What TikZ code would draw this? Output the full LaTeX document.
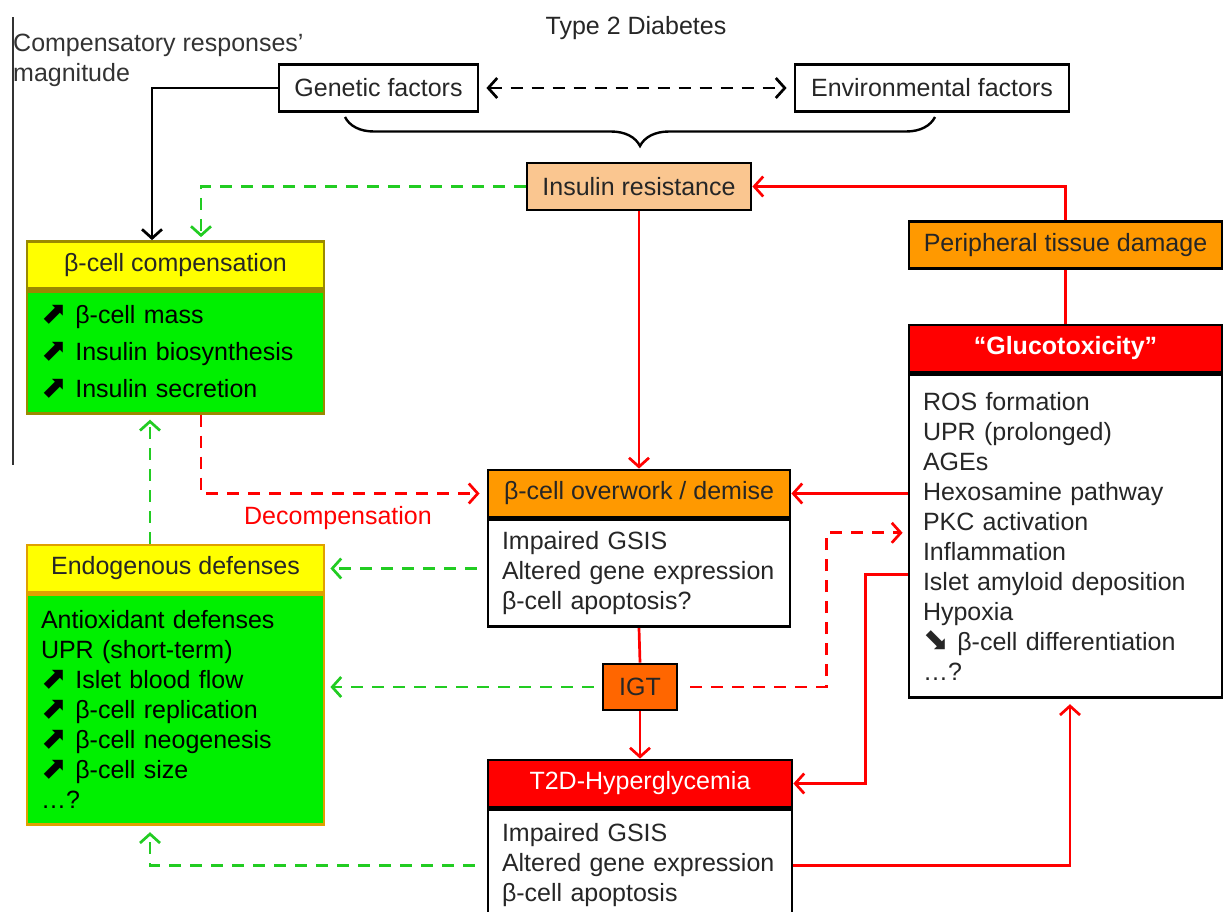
\documentclass[tikz,border=0pt]{standalone}
\usepackage{fontspec}
\setmainfont{Liberation Sans}
\newfontfamily\symfont{DejaVu Sans}
\usetikzlibrary{arrows.meta,decorations.pathreplacing}
\definecolor{hdryellow}{HTML}{FFFF00}
\definecolor{bodygreen}{HTML}{00F000}
\definecolor{compedge}{HTML}{9A8A00}
\definecolor{endoedge}{HTML}{E0A000}
\definecolor{peach}{HTML}{FAC690}
\definecolor{amber}{HTML}{FF9900}
\definecolor{igtorange}{HTML}{FF6600}
\definecolor{alarm}{HTML}{FF0000}
\definecolor{dashgreen}{HTML}{22CC22}
\definecolor{note}{HTML}{333333}
\newcommand{\upmark}{{\symfont\fontsize{31}{30}\selectfont\char"2B08}}
\newcommand{\downmark}{{\symfont\fontsize{31}{30}\selectfont\char"2B0A}}

\begin{document}
\begin{tikzpicture}[x=1pt,y=-1pt,
every node/.style={%
font=\fontsize{25}{30}\selectfont,
text=black!85,
},
box/.style={%
draw,
line width=2.8pt,
minimum height=47pt,
inner sep=0pt,
},
listbox/.style={%
draw,
line width=2.8pt,
anchor=north,
align=left,
inner xsep=14pt,
inner ysep=0pt,
fill=white,
},
link/.style={%
draw=alarm,
line width=2.7pt,
},
arr/.style={%
-{Straight Barb[length=9pt,width=20pt]},
},
reddash/.style={%
link,
arr,
dash pattern=on 12pt off 9pt,
},
greendash/.style={%
draw=dashgreen,
line width=2.7pt,
arr,
dash pattern=on 12pt off 9pt,
},
]
\useasboundingbox (0,0) rectangle (1224,911);
%% Title and side note
\node(title)at(636,28){Type 2 Diabetes};
\node[anchor=west,align=left,inner sep=0pt,text=note](magn)at(13,60){Compensatory responses’\\magnitude};
\draw[line width=1.6pt,note] (13,17)--(13,465);
%% Causes
\node[box,minimum width=199pt](gen)at(378.5,88){Genetic factors};
\node[box,minimum width=274pt](env)at(932,88){Environmental factors};
\draw[line width=2.7pt,{Straight Barb[length=9pt,width=20pt]}-{Straight Barb[length=9pt,width=20pt]},
dash pattern=on 12pt off 9pt,shorten <=7pt,shorten >=7pt] (gen.east)--(env.west);
\draw[line width=2.4pt,decorate,decoration={brace,amplitude=29pt}] (935,117)--(345,117);
\node[box,fill=peach,minimum width=224pt](ins)at(639,186.5){Insulin resistance};
\node[box,fill=amber,minimum width=313pt](ptd)at(1065.5,245){Peripheral tissue damage};
%% Glucotoxicity
\node[box,fill=alarm,minimum width=313pt,text=white,font=\fontsize{25}{30}\selectfont\bfseries](glucH)at(1065.5,348.5){“Glucotoxicity”};
\node[listbox,text width=285pt,minimum height=323pt](glucB)at(glucH.south){ROS formation\\UPR (prolonged)\\AGEs\\Hexosamine pathway\\PKC activation\\Inflammation\\Islet amyloid deposition\\Hypoxia\\\downmark\ β-cell differentiation\\…?};
%% Compensation
\node[box,fill=hdryellow,draw=compedge,minimum width=297pt](compH)at(175.5,265){β-cell compensation};
\node[listbox,fill=bodygreen,draw=compedge,text width=269pt,minimum height=122pt,text=black,
font=\fontsize{25}{37}\selectfont](compB)at(compH.south){\upmark\ β-cell mass\\\upmark\ Insulin biosynthesis\\\upmark\ Insulin secretion};
\node[box,fill=hdryellow,draw=endoedge,minimum width=297pt](endoH)at(175.5,568.5){Endogenous defenses};
\node[listbox,fill=bodygreen,draw=endoedge,text width=269pt,minimum height=230pt,text=black](endoB)at(endoH.south){Antioxidant defenses\\UPR (short-term)\\\upmark\ Islet blood flow\\\upmark\ β-cell replication\\\upmark\ β-cell neogenesis\\\upmark\ β-cell size\\…?};
%% Beta cell course
\node[box,fill=amber,minimum width=302pt](ovH)at(639,493.5){β-cell overwork / demise};
\node[listbox,text width=274pt,minimum height=107pt](ovB)at(ovH.south){Impaired GSIS\\Altered gene expression\\β-cell apoptosis?};
\node[box,fill=igtorange,minimum width=74pt,minimum height=46pt](igt)at(640,687){IGT};
\node[box,fill=alarm,minimum width=304pt,text=white](t2dH)at(640,783.5){T2D-Hyperglycemia};
\node[listbox,text width=276pt,minimum height=111pt](t2dB)at(t2dH.south){Impaired GSIS\\Altered gene expression\\β-cell apoptosis};
\node[text=alarm](decomp)at(338,518){Decompensation};
%% Links
\coordinate (gIn) at ([yshift=3.5pt]glucB.west);
\coordinate (gOut) at ([yshift=-38.5pt]glucB.west);
\draw[line width=2.7pt,arr] (gen.west) -| ([xshift=-23.5pt]compH.north);
\draw[greendash,shorten >=3pt] (ins.west) -| ([xshift=25.5pt]compH.north);
\draw[link,arr] (ptd.north) |- (ins.east);
\draw[link] (ptd.south)--(glucH.north);
\draw[link,arr] (ins.south)--(ovH.north);
\draw[link,arr] (ovH.east -| glucB.west)--(ovH.east);
\draw[reddash,shorten >=7pt] ([xshift=25.5pt]compB.south) |- (ovH.west);
\draw[greendash,shorten >=5pt] ([xshift=-25.5pt]endoH.north)--([xshift=-25.5pt]compB.south);
\draw[greendash,shorten <=10pt,shorten >=5pt] (ovB.west |- endoH.east)--(endoH.east);
\draw[greendash,shorten <=8pt,shorten >=5pt] (igt.west)--(igt.west -| endoB.east);
\draw[link] (ovB.south)--(igt.north);
\draw[link,arr] (igt.south)--(t2dH.north);
\draw[reddash,shorten >=5pt] ([xshift=12pt]igt.east) -| ([xshift=-81pt]gIn)--(gIn);
\draw[link,arr] (gOut) -| ([xshift=72pt]t2dH.east)--(t2dH.east);
\draw[link,arr,shorten >=5pt] (t2dB.east) -| ([xshift=4.5pt]glucB.south);
\draw[greendash,shorten <=12pt,shorten >=6pt] (t2dB.west) -| ([xshift=-25.5pt]endoB.south);
\end{tikzpicture}
\end{document}
